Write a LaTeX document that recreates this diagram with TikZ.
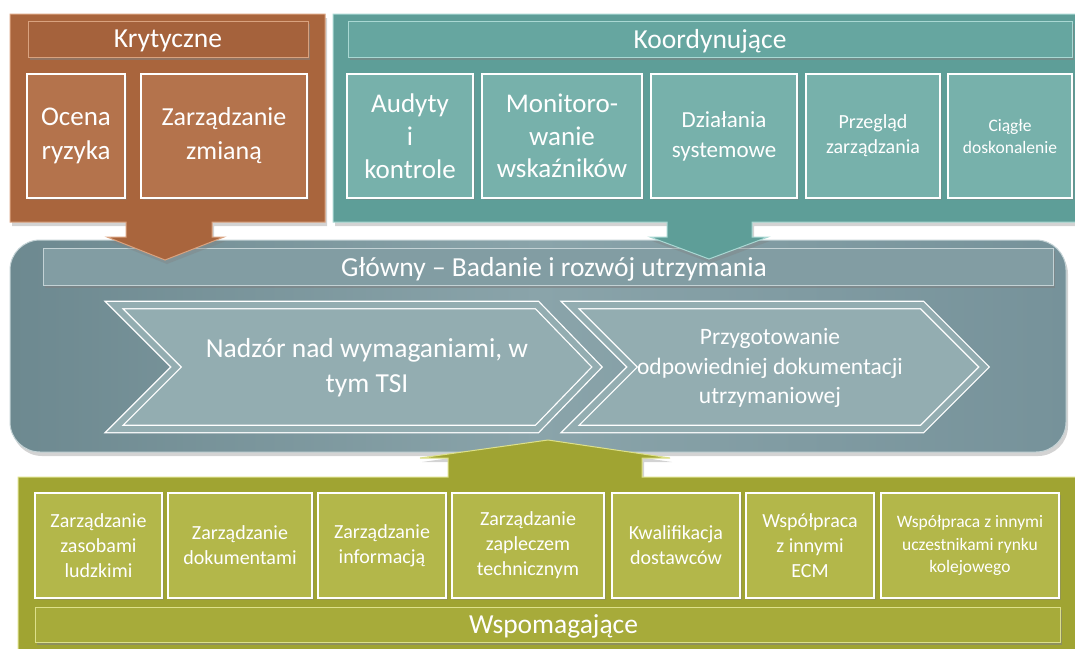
\documentclass[tikz,border=0pt]{standalone}
\usepackage{fontspec}
\setmainfont{Carlito}
\usetikzlibrary{shadows}
\definecolor{orgPanel}{HTML}{A9653D}
\definecolor{orgBox}{HTML}{B4734C}
\definecolor{orgHead}{HTML}{A5623C}
\definecolor{orgEdge}{HTML}{D9A27F}
\definecolor{tealPanel}{HTML}{5E9E98}
\definecolor{tealBox}{HTML}{77B1AB}
\definecolor{tealHead}{HTML}{66A6A0}
\definecolor{tealEdge}{HTML}{A9D8D3}
\definecolor{mainDark}{HTML}{6D8990}
\definecolor{mainMid}{HTML}{8AA4AA}
\definecolor{mainRight}{HTML}{76929A}
\definecolor{mainHead}{HTML}{829DA3}
\definecolor{mainChev}{HTML}{93ADB1}
\definecolor{mainEdge}{HTML}{C3D2D5}
\definecolor{olvPanel}{HTML}{A0A432}
\definecolor{olvBox}{HTML}{B3B74A}
\definecolor{olvHead}{HTML}{A7AB3A}
\definecolor{olvEdge}{HTML}{DDE08A}
\begin{document}
\begin{tikzpicture}[x=1pt,y=-1pt,
  panelshape/.style={line width=1pt, drop shadow={shadow xshift=2pt,shadow yshift=-4pt,opacity=0.35}},
  tilebox/.style={draw=white, line width=1.8pt, text=white, align=center, inner sep=0pt,
    drop shadow={shadow xshift=1.5pt,shadow yshift=-2pt,opacity=0.4}},
  headbar/.style={text=white, inner sep=0pt, line width=0.8pt, text depth=0pt,
    drop shadow={shadow xshift=1.5pt,shadow yshift=-2.5pt,opacity=0.55}},
  chev/.style={fill=mainChev, draw=white, double=mainChev, double distance=6pt, line width=1.3pt, line join=miter},
  ctext/.style={text=white, align=center, inner sep=0pt}
]
\useasboundingbox (0,0) rectangle (1075,648);
\clip (0,0) rectangle (1075,648);

% main panel
\path[left color=mainDark, right color=mainRight, middle color=mainMid, draw=mainEdge, line width=1pt,
  rounded corners=30pt, drop shadow={shadow xshift=2pt,shadow yshift=-4pt,opacity=0.35}]
  (10,240) rectangle (1066,452);
\node[headbar, fill=mainHead, draw=mainEdge, minimum width=1010pt, minimum height=37pt,
  font=\fontsize{27.5}{32}\selectfont] (mainhead) at (548,266.5) {\hspace*{12pt}Główny – Badanie i rozwój utrzymania};

% chevrons
\path[chev] (114,305) -- (537,305) -- (597,367) -- (537,429) -- (114,429) -- (176,367) -- cycle;
\path[chev] (570,305) -- (922,305) -- (984,367) -- (922,429) -- (570,429) -- (632,367) -- cycle;
\node[ctext, font=\fontsize{27.5}{35}\selectfont] (nadzor) at (367,368) {Nadzór nad wymaganiami, w\\tym TSI};
\node[ctext, font=\fontsize{23.5}{29.5}\selectfont] (przyg) at (770,368) {Przygotowanie\\odpowiedniej dokumentacji\\utrzymaniowej};

% orange panel
\path[panelshape, fill=orgPanel, draw=orgEdge]
  (10,14) -- (325,14) -- (325,222) -- (212,222) -- (212,237) -- (224,237) -- (165,260)
  -- (107,237) -- (126,237) -- (126,222) -- (10,222) -- cycle;
\node[headbar, fill=orgHead, draw=orgEdge, minimum width=280pt, minimum height=36pt,
  font=\fontsize{27.5}{32}\selectfont] (krhead) at (168,39) {Krytyczne};
\node[tilebox, fill=orgBox, minimum width=98pt, minimum height=124pt, font=\fontsize{27}{34}\selectfont] (ocena) at (76,136) {Ocena\\ryzyka};
\node[tilebox, fill=orgBox, minimum width=166pt, minimum height=124pt, font=\fontsize{26}{34}\selectfont] (zmiana) at (224,136) {Zarządzanie\\zmianą};

% teal panel
\path[panelshape, fill=tealPanel, draw=tealEdge]
  (333,14) -- (1080,14) -- (1080,222) -- (752,222) -- (752,237) -- (768,237) -- (709,259)
  -- (650,237) -- (667,237) -- (667,222) -- (333,222) -- cycle;
\node[headbar, fill=tealHead, draw=tealEdge, minimum width=724pt, minimum height=36pt,
  font=\fontsize{27.5}{32}\selectfont] (koohead) at (710,39) {Koordynujące};
\node[tilebox, fill=tealBox, minimum width=126pt, minimum height=124pt, font=\fontsize{27}{33}\selectfont] (audyty) at (410,136) {Audyty\\i\\kontrole};
\node[tilebox, fill=tealBox, minimum width=160pt, minimum height=124pt, font=\fontsize{27}{32.5}\selectfont] (monit) at (562,136) {Monitoro-\\wanie\\wskaźników};
\node[tilebox, fill=tealBox, minimum width=146pt, minimum height=124pt, font=\fontsize{23}{30}\selectfont] (dzial) at (724,136) {Działania\\systemowe};
\node[tilebox, fill=tealBox, minimum width=134pt, minimum height=124pt, font=\fontsize{20}{25}\selectfont] (przeglad) at (873,136) {Przegląd\\zarządzania};
\node[tilebox, fill=tealBox, minimum width=124pt, minimum height=124pt, font=\fontsize{17.5}{22}\selectfont] (ciagle) at (1010,136) {Ciągłe\\doskonalenie};

% olive panel
\path[panelshape, fill=olvPanel, draw=olvEdge]
  (18,477) -- (448,477) -- (448,458) -- (420,458) -- (548,440) -- (670,458) -- (642,458)
  -- (642,477) -- (1080,477) -- (1080,660) -- (18,660) -- cycle;
\node[tilebox, fill=olvBox, minimum width=127pt, minimum height=105pt, font=\fontsize{20}{25}\selectfont] (zasoby) at (98.5,545.5) {Zarządzanie\\zasobami\\ludzkimi};
\node[tilebox, fill=olvBox, minimum width=144pt, minimum height=105pt, font=\fontsize{20}{25}\selectfont] (dokum) at (240,545.5) {Zarządzanie\\dokumentami};
\node[tilebox, fill=olvBox, minimum width=128pt, minimum height=105pt, font=\fontsize{20}{25}\selectfont] (inform) at (382,545.5) {Zarządzanie\\informacją};
\node[tilebox, fill=olvBox, minimum width=152pt, minimum height=105pt, font=\fontsize{20}{25}\selectfont] (zaplecze) at (528,545.5) {Zarządzanie\\zapleczem\\technicznym};
\node[tilebox, fill=olvBox, minimum width=128pt, minimum height=105pt, font=\fontsize{20}{25}\selectfont] (kwal) at (676,545.5) {Kwalifikacja\\dostawców};
\node[tilebox, fill=olvBox, minimum width=128pt, minimum height=105pt, font=\fontsize{20}{25}\selectfont] (wspecm) at (810,545.5) {Współpraca\\z innymi\\ECM};
\node[tilebox, fill=olvBox, minimum width=178pt, minimum height=105pt, font=\fontsize{17.5}{22.5}\selectfont] (wsprynek) at (970,545.5) {Współpraca z innymi\\uczestnikami rynku\\kolejowego};
\node[headbar, fill=olvHead, draw=olvEdge, minimum width=1025pt, minimum height=35pt,
  font=\fontsize{27.5}{32}\selectfont] (wsphead) at (547.5,624.5) {\hspace*{12pt}Wspomagające};
\end{tikzpicture}
\end{document}
